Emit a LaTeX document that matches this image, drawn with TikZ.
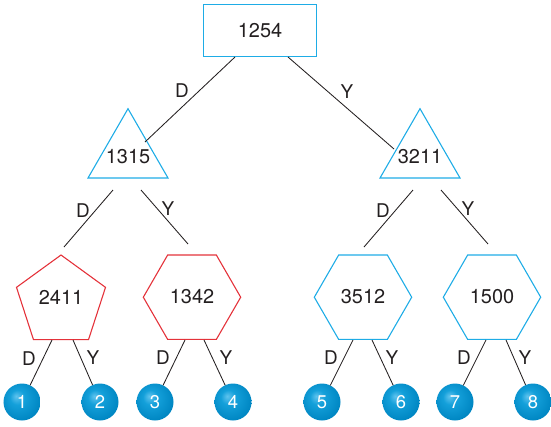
\documentclass[tikz,border=0pt]{standalone}
\usepackage{fontspec}
\setmainfont{TeX Gyre Heros}
\usetikzlibrary{shapes.geometric}
\definecolor{skyc}{RGB}{30,172,230}
\definecolor{redc}{RGB}{228,50,58}
\definecolor{inkc}{RGB}{35,31,32}
\definecolor{ballA}{RGB}{95,195,238}
\definecolor{ballB}{RGB}{20,160,218}
\definecolor{ballC}{RGB}{0,135,195}
\definecolor{ballD}{RGB}{0,105,160}
\pgfdeclareradialshading{leafball}{\pgfpoint{-8bp}{8bp}}{%
  color(0bp)=(ballA);
  color(10bp)=(ballB);
  color(28bp)=(ballC);
  color(42bp)=(ballD);
  color(50bp)=(ballD)}
\begin{document}
\begin{tikzpicture}[x=1bp,y=-1bp,
  every node/.style={inner sep=0pt, outer sep=0pt},
  txt/.style={font=\fontsize{20}{22}\selectfont, text=inkc},
  lbl/.style={font=\fontsize{19}{21}\selectfont, text=inkc},
  boxshape/.style={draw=skyc, line width=1.1bp, minimum width=113bp, minimum height=52bp},
  tri/.style={regular polygon, regular polygon sides=3, minimum size=92.4bp, draw=skyc, line width=1.1pt},
  pent/.style={regular polygon, regular polygon sides=5, minimum size=93.6bp, draw=redc, line width=1.1pt},
  hexr/.style={regular polygon, regular polygon sides=6, minimum size=97.4bp, draw=redc, line width=1.1pt},
  hexc/.style={regular polygon, regular polygon sides=6, minimum size=97.4bp, draw=skyc, line width=1.1pt},
  ball/.style={circle, minimum size=37bp, shading=leafball, text=white, font=\fontsize{18.5}{20}\selectfont},
  edge/.style={draw=inkc, line width=0.85pt}]
\useasboundingbox (0,0) rectangle (551,426);
% shapes
\node[boxshape] (r) at (260,30.5) {};
\node[txt] (tr) at (260,31) {1254};
\node[tri] (a) at (128,154.9) {};
\node[txt] (ta) at (128,157) {1315};
\node[tri] (b) at (420,154.9) {};
\node[txt] (tb) at (420,157) {3211};
\node[pent] (p1) at (61,301.8) {};
\node[txt] (tp1) at (61,297) {2411};
\node[hexr] (h2) at (192,297.2) {};
\node[txt] (th2) at (192,297) {1342};
\node[hexc] (h3) at (363,297.2) {};
\node[txt] (th3) at (363,297) {3512};
\node[hexc] (h4) at (492,297.2) {};
\node[txt] (th4) at (492,297) {1500};
% leaves
\node[ball] (c1) at (22,402) {1};
\node[ball] (c2) at (100,402) {2};
\node[ball] (c3) at (155,402) {3};
\node[ball] (c4) at (233,402) {4};
\node[ball] (c5) at (322,402) {5};
\node[ball] (c6) at (401,402) {6};
\node[ball] (c7) at (455,402) {7};
\node[ball] (c8) at (533,402) {8};
% connector end points
\coordinate (r1) at (235,57);   \coordinate (a0) at (145,142);
\coordinate (r2) at (288,57);   \coordinate (b0) at (394,149);
\coordinate (a1) at (113,190);  \coordinate (p1t) at (64,247);
\coordinate (a2) at (141,190);  \coordinate (h2t) at (188,244);
\coordinate (b1) at (413,190);  \coordinate (h3t) at (364,247);
\coordinate (b2) at (441,190);  \coordinate (h4t) at (488,244);
\coordinate (p1a) at (52,340);  \coordinate (p1b) at (73,340);
\coordinate (h2a) at (185,340); \coordinate (h2b) at (204,340);
\coordinate (h3a) at (353,340); \coordinate (h3b) at (372,340);
\coordinate (h4a) at (486,340); \coordinate (h4b) at (506,340);
% connectors
\draw[edge] (r1) -- (a0);
\draw[edge] (r2) -- (b0);
\draw[edge] (a1) -- (p1t);
\draw[edge] (a2) -- (h2t);
\draw[edge] (b1) -- (h3t);
\draw[edge] (b2) -- (h4t);
\draw[edge] (p1a) -- (c1);
\draw[edge] (p1b) -- (c2);
\draw[edge] (h2a) -- (c3);
\draw[edge] (h2b) -- (c4);
\draw[edge] (h3a) -- (c5);
\draw[edge] (h3b) -- (c6);
\draw[edge] (h4a) -- (c7);
\draw[edge] (h4b) -- (c8);
% labels
\node[lbl] (l1) at (182,91) {D};
\node[lbl] (l2) at (347,92) {Y};
\node[lbl] (l3) at (83,211) {D};
\node[lbl] (l4) at (168,209) {Y};
\node[lbl] (l5) at (383,211) {D};
\node[lbl] (l6) at (468,209) {Y};
\node[lbl] (l7) at (29,359) {D};
\node[lbl] (l8) at (93,358) {Y};
\node[lbl] (l9) at (163,358) {D};
\node[lbl] (l10) at (226,358) {Y};
\node[lbl] (l11) at (331,358) {D};
\node[lbl] (l12) at (392,358) {Y};
\node[lbl] (l13) at (464,358) {D};
\node[lbl] (l14) at (525,358) {Y};
\end{tikzpicture}
\end{document}
